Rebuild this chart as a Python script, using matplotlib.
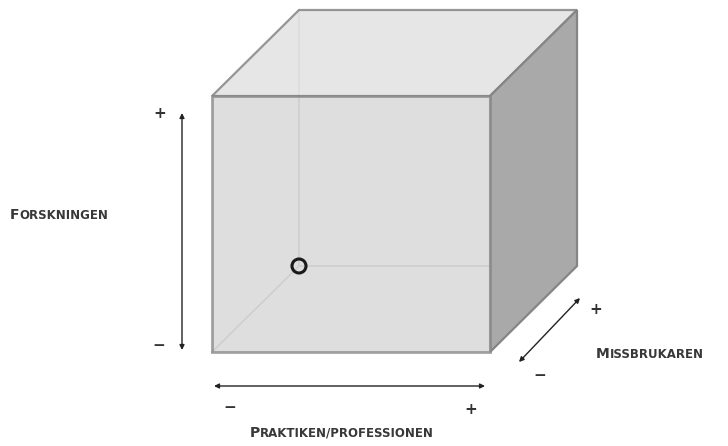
import matplotlib.pyplot as plt
from matplotlib.patches import Polygon, Circle

# kubens hörn (pixlar, y nedåt)
front = [(212, 96), (490, 96), (490, 352), (212, 352)]
depth = (87, -86)
origo = (299, 266)

# axlar: (start, slut)
pil_forskning = ((182, 350), (182, 113))
pil_praktik = ((214, 386), (485, 386))
pil_missbruk = ((519, 362), (580, 298))

etiketter = [("Forskningen", 10, 219), ("Missbrukaren", 596, 358), ("Praktiken/professionen", 250, 437)]
tecken = [("+", 160, 113), ("\u2212", 159, 345), ("\u2212", 230, 407), ("+", 471, 409),
          ("+", 596, 310), ("\u2212", 540, 376)]


def flytta(p):
    return (p[0] + depth[0], p[1] + depth[1])


fig = plt.figure(figsize=(7.28, 4.46), dpi=100)
ax = fig.add_axes([0, 0, 1, 1])
ax.set_xlim(0, 728)
ax.set_ylim(446, 0)
ax.axis('off')

back = [flytta(p) for p in front]
kant = '#858585'

# bakre (dolda) kanter
ax.plot([back[0][0], back[3][0]], [back[0][1], back[3][1]], color='#bdbdbd', lw=1.2, zorder=1)
ax.plot([back[3][0], back[2][0]], [back[3][1], back[2][1]], color='#bdbdbd', lw=1.2, zorder=1)
ax.plot([front[3][0], back[3][0]], [front[3][1], back[3][1]], color='#bdbdbd', lw=1.2, zorder=1)

# ytor
topp = [front[0], front[1], back[1], back[0]]
sida = [front[1], back[1], back[2], front[2]]
ax.add_patch(Polygon(topp, closed=True, fc='#e2e2e2', ec=kant, lw=1.6, alpha=0.85, zorder=2))
ax.add_patch(Polygon(sida, closed=True, fc='#a9a9a9', ec=kant, lw=1.6, zorder=2))
ax.add_patch(Polygon(front, closed=True, fc='#d4d4d4', ec=kant, lw=2.0, alpha=0.75, zorder=3))

ax.add_patch(Circle(origo, 7, fc='none', ec='#1a1a1a', lw=2.2, zorder=5))

for start, slut in [pil_forskning, pil_praktik, pil_missbruk]:
    ax.annotate('', xy=slut, xytext=start,
                arrowprops=dict(arrowstyle='<|-|>', color='#222222', lw=1.0,
                                mutation_scale=7, shrinkA=0, shrinkB=0))

for t, x, y in tecken:
    ax.text(x, y, t, ha='center', va='center', fontsize=11, fontweight='bold', color='#333333')

# kapitäler: första bokstaven större
for namn, x, y in etiketter:
    forsta = ax.text(x, y, namn[0].upper(), ha='left', va='baseline', fontsize=10,
                     fontweight='bold', color='#383838')
    ax.annotate(namn[1:].upper(), xy=(1, 0), xycoords=forsta, ha='left', va='bottom',
                fontsize=8.5, fontweight='bold', color='#383838')

fig.savefig('out.png', dpi=100)
